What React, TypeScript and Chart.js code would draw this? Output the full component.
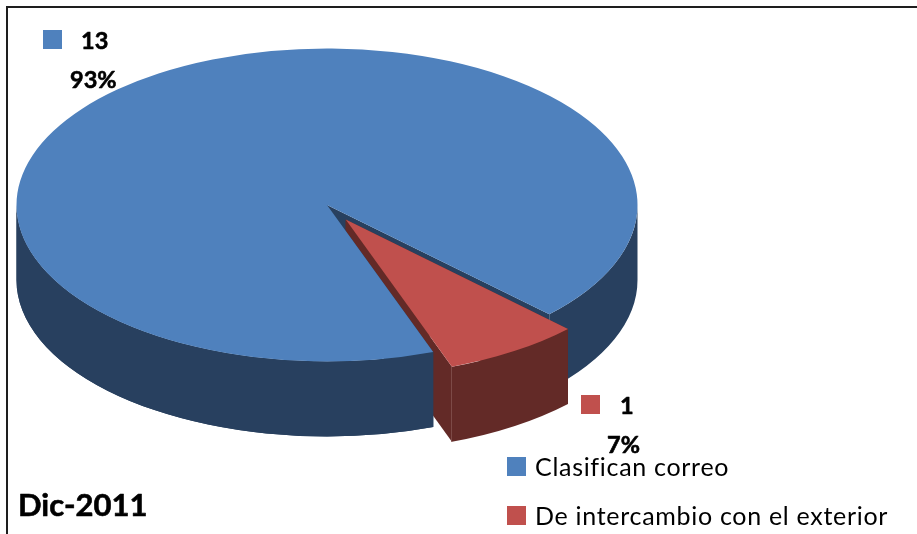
import React, { useEffect, useRef } from "react";
import { Chart, registerables } from "chart.js";

Chart.register(...registerables);

const categories = ["Clasifican correo", "De intercambio con el exterior"];
const values = [13, 1];
const percentLabels = ["93%", "7%"];
const topColors = ["#4F81BD", "#C0504D"];
const wallColors = ["#28405F", "#632A27"];
const explode = [0, 34.5];
const chartTitle = "Dic-2011";

const FONT = "Lato, 'Open Sans', sans-serif";
const CX = 327;
const CY = 205;
const RX = 310.5;
const RY = 156.5;
const DEPTH = 75;

function origin(el: any, shift: number) {
  const mid = (el.startAngle + el.endAngle) / 2;
  return { x: CX + Math.cos(mid) * shift, y: CY + (Math.sin(mid) * shift * RY) / RX };
}

function place(ctx: CanvasRenderingContext2D, el: any, shift: number) {
  const o = origin(el, shift);
  ctx.translate(o.x, o.y);
  ctx.scale(RX / el.outerRadius, RY / el.outerRadius);
  ctx.translate(-el.x, -el.y);
}

// outer curved wall between two angles on the front of the ellipse
function wall(ctx: CanvasRenderingContext2D, el: any, shift: number, color: string, a: number, b: number) {
  const o = origin(el, shift);
  ctx.fillStyle = color;
  ctx.beginPath();
  ctx.ellipse(o.x, o.y, RX, RY, 0, a, b);
  ctx.ellipse(o.x, o.y + DEPTH, RX, RY, 0, b, a, true);
  ctx.closePath();
  ctx.fill();
}

// flat cut face running from the slice's tip to its rim at one angle
function face(ctx: CanvasRenderingContext2D, el: any, shift: number, color: string, angle: number) {
  const o = origin(el, shift);
  const ex = o.x + Math.cos(angle) * RX;
  const ey = o.y + Math.sin(angle) * RY;
  ctx.fillStyle = color;
  ctx.beginPath();
  ctx.moveTo(o.x, o.y);
  ctx.lineTo(ex, ey);
  ctx.lineTo(ex, ey + DEPTH);
  ctx.lineTo(o.x, o.y + DEPTH);
  ctx.closePath();
  ctx.fill();
}

const TAU = Math.PI * 2;

function boldText(ctx: CanvasRenderingContext2D, text: string, x: number, y: number) {
  ctx.lineWidth = 0.6;
  ctx.strokeStyle = "#000";
  ctx.lineJoin = "round";
  ctx.strokeText(text, x, y);
  ctx.fillText(text, x, y);
}

const pie3d = {
  id: "pie3d",
  beforeDatasetDraw(chart: any) {
    const ctx: CanvasRenderingContext2D = chart.ctx;
    const [blue, red] = chart.getDatasetMeta(0).data as any[];
    const bs = ((blue.startAngle % TAU) + TAU) % TAU;
    const be = bs + (blue.endAngle - blue.startAngle);
    const rs = ((red.startAngle % TAU) + TAU) % TAU;
    const re = rs + (red.endAngle - red.startAngle);

    // blue walls behind the red slice
    wall(ctx, blue, explode[0], wallColors[0], bs, Math.PI);
    wall(ctx, blue, explode[0], wallColors[0], TAU, be);
    face(ctx, blue, explode[0], wallColors[0], be);
    // red slice walls
    face(ctx, red, explode[1], wallColors[1], rs);
    face(ctx, red, explode[1], wallColors[1], re);
    wall(ctx, red, explode[1], wallColors[1], rs, re);
    // blue walls in front of the red cut face
    face(ctx, blue, explode[0], wallColors[0], bs);
    wall(ctx, blue, explode[0], wallColors[0], bs, Math.PI);

    // seam at the red slice's front corner
    const o = origin(red, explode[1]);
    const sx = o.x + Math.cos(re) * RX;
    const sy = o.y + Math.sin(re) * RY;
    ctx.strokeStyle = "#7D4A47";
    ctx.lineWidth = 1;
    ctx.beginPath();
    ctx.moveTo(Math.round(sx) - 0.5, sy);
    ctx.lineTo(Math.round(sx) - 0.5, sy + DEPTH);
    ctx.stroke();

    // tops, drawn by the library's arc elements
    [blue, red].forEach((el: any, i: number) => {
      ctx.save();
      place(ctx, el, explode[i]);
      el.draw(ctx);
      ctx.restore();
    });
    return false;
  },
  afterDraw(chart: any) {
    const ctx: CanvasRenderingContext2D = chart.ctx;
    ctx.save();
    // frame
    ctx.strokeStyle = "#1E1E1E";
    ctx.lineWidth = 2;
    ctx.beginPath();
    ctx.moveTo(7, 534);
    ctx.lineTo(7, 7);
    ctx.lineTo(917, 7);
    ctx.stroke();

    ctx.textBaseline = "middle";
    ctx.textAlign = "left";
    // data labels
    const keys = [
      [43, 30, 81, 41, 70, 80],
      [581, 395, 620, 406, 607, 445],
    ];
    keys.forEach((k, i) => {
      ctx.fillStyle = topColors[i];
      ctx.fillRect(k[0], k[1], 19, 19);
      ctx.fillStyle = "#000";
      ctx.font = `bold 23.5px ${FONT}`;
      boldText(ctx, String(values[i]), k[2], k[3]);
      boldText(ctx, percentLabels[i], k[4], k[5]);
    });
    // legend
    const rows = [457, 506];
    categories.forEach((c, i) => {
      ctx.fillStyle = topColors[i];
      ctx.fillRect(507, rows[i], 19, 19);
      ctx.fillStyle = "#000";
      ctx.font = `25px ${FONT}`;
      (ctx as any).letterSpacing = "0.7px";
      ctx.fillText(c, 535, rows[i] + 11);
      (ctx as any).letterSpacing = "0px";
    });
    // title
    ctx.fillStyle = "#000";
    ctx.font = `bold 31px ${FONT}`;
    boldText(ctx, chartTitle, 18, 506);
    ctx.restore();
  },
};

export default function App() {
  const ref = useRef<HTMLCanvasElement>(null);
  useEffect(() => {
    const chart = new Chart(ref.current as HTMLCanvasElement, {
      type: "pie",
      data: {
        labels: categories,
        datasets: [{ data: values, backgroundColor: topColors, borderWidth: 0 }],
      },
      options: {
        animation: false,
        responsive: false,
        rotation: 160,
        layout: { padding: 0 },
        plugins: { legend: { display: false }, tooltip: { enabled: false }, title: { display: false } },
      },
      plugins: [pie3d as any],
    });
    return () => chart.destroy();
  }, []);
  return (
    <canvas
      ref={ref}
      width={917}
      height={534}
      style={{ position: "fixed", left: 0, top: 0, width: 917, height: 534, background: "#fff" }}
    />
  );
}
